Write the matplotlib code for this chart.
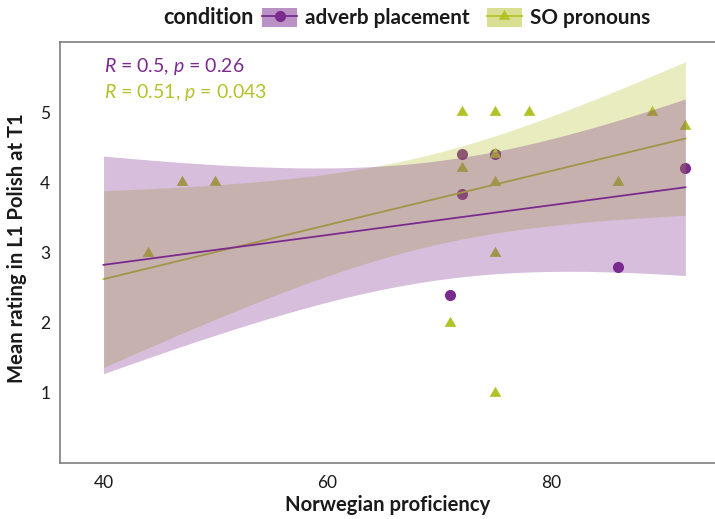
import numpy as np
import matplotlib
matplotlib.use('Agg')
import matplotlib.pyplot as plt
from matplotlib.patches import Patch
from matplotlib.lines import Line2D

# ---------------- data ----------------
adv_x = [71, 72, 72, 75, 86, 92]
adv_y = [2.4, 3.83, 4.4, 4.4, 2.8, 4.2]
so_x = [44, 47, 50, 71, 72, 72, 75, 75, 75, 75, 75, 78, 86, 89, 92]
so_y = [3, 4, 4, 2, 5, 4.2, 5, 4.4, 4, 3, 1, 5, 4, 5, 4.8]

# confidence band of the linear fit, read at a few x positions
band_x = [40, 55, 68, 80, 92]
adv_lo = [1.28, 2.06, 2.56, 2.74, 2.67]
adv_hi = [4.38, 4.21, 4.27, 4.62, 5.19]
so_lo = [1.36, 2.37, 3.05, 3.38, 3.53]
so_hi = [3.88, 4.03, 4.35, 4.94, 5.72]

cond_labels = ["adverb placement", "SO pronouns"]
stat_labels = ["$R$ = 0.5, $p$ = 0.26", "$R$ = 0.51, $p$ = 0.043"]
x_ticks = [40, 60, 80]
y_ticks = [1, 2, 3, 4, 5]

# ---------------- style ----------------
plt.rcParams['font.family'] = ['Lato', 'DejaVu Sans']
plt.rcParams['mathtext.fontset'] = 'custom'
plt.rcParams['mathtext.rm'] = 'Lato'
plt.rcParams['mathtext.it'] = 'Lato:italic'

PURPLE = '#7B2A8E'
OLIVE = '#B4C22A'
TXT = '#1a1a1a'

fig = plt.figure(figsize=(7.15, 5.19), dpi=100)
ax = fig.add_axes([60 / 715, 1 - 463 / 519, 1 - 60 / 715, (463 - 42) / 519])

tri = np.array([(0, 1), (-0.866, -0.5), (0.866, -0.5), (0, 1)])

ax.scatter(adv_x, adv_y, s=64, marker='o', color=PURPLE, linewidths=0, zorder=2)
ax.scatter(so_x, so_y, s=95, marker=tri, color=OLIVE, linewidths=0, zorder=2.1)

xs = np.linspace(min(band_x), max(band_x), 300)


def band(lo, hi):
    lo = np.asarray(lo, float)
    hi = np.asarray(hi, float)
    cen = np.polyfit(band_x, (lo + hi) / 2, 1)
    hw2 = np.polyfit(band_x, ((hi - lo) / 2) ** 2, 2)
    c = np.polyval(cen, xs)
    h = np.sqrt(np.clip(np.polyval(hw2, xs), 0, None))
    return c, c - h, c + h


c2, l2, h2 = band(so_lo, so_hi)
ax.fill_between(xs, l2, h2, color=OLIVE, alpha=0.3, linewidth=0, zorder=3)
ax.plot(xs, c2, color=OLIVE, lw=1.3, zorder=4)

c1, l1, h1 = band(adv_lo, adv_hi)
ax.fill_between(xs, l1, h1, color=PURPLE, alpha=0.3, linewidth=0, zorder=5)
ax.plot(xs, c1, color=PURPLE, lw=1.3, zorder=6)

ax.text(40, 5.65, stat_labels[0], color=PURPLE, fontsize=14, ha='left', va='center', zorder=10)
ax.text(40, 5.28, stat_labels[1], color=OLIVE, fontsize=14, ha='left', va='center', zorder=10)

ax.set_xlim(36.11, 94.65)
ax.set_ylim(0, 6)
ax.set_xticks(x_ticks)
ax.set_yticks(y_ticks)
ax.tick_params(length=0, labelsize=12.5, labelcolor=TXT)
ax.tick_params(axis='x', pad=9)
ax.tick_params(axis='y', pad=7)
for s in ['left', 'bottom', 'top']:
    ax.spines[s].set_color('#7f7f7f')
    ax.spines[s].set_linewidth(1.2)
ax.spines['right'].set_visible(False)

ax.set_xlabel("Norwegian proficiency", fontsize=14.6, fontweight='bold', color=TXT)
ax.xaxis.set_label_coords(0.5, -0.1)
ax.xaxis.label.set_va('center')
ax.set_ylabel("Mean rating in L1 Polish at T1", fontsize=14.6, fontweight='bold', color=TXT)
ax.yaxis.set_label_coords(-0.065, 0.51)
ax.yaxis.label.set_va('center')

# legend on top
fig.text(163 / 715, 1 - 18 / 519, "condition", fontsize=15.5, fontweight='bold',
         color=TXT, ha='left', va='center')
handles = [
    (Patch(facecolor=PURPLE, alpha=0.51, edgecolor='none'),
     Line2D([], [], color=PURPLE, lw=1.3, marker='o', markersize=8, markeredgewidth=0)),
    (Patch(facecolor=OLIVE, alpha=0.51, edgecolor='none'),
     Line2D([], [], color=OLIVE, lw=1.3, marker=tri, markersize=9.5, markeredgewidth=0)),
]
fig.legend(handles, cond_labels, loc='center left', bbox_to_anchor=(262 / 715, 1 - 18 / 519),
           ncol=2, frameon=False, prop={'size': 14.9, 'weight': 'bold'}, numpoints=1,
           handlelength=1.7, handleheight=1.05, handletextpad=0.4, columnspacing=0.8,
           borderpad=0, borderaxespad=0, labelcolor=TXT)

fig.savefig('out.png', dpi=100)
